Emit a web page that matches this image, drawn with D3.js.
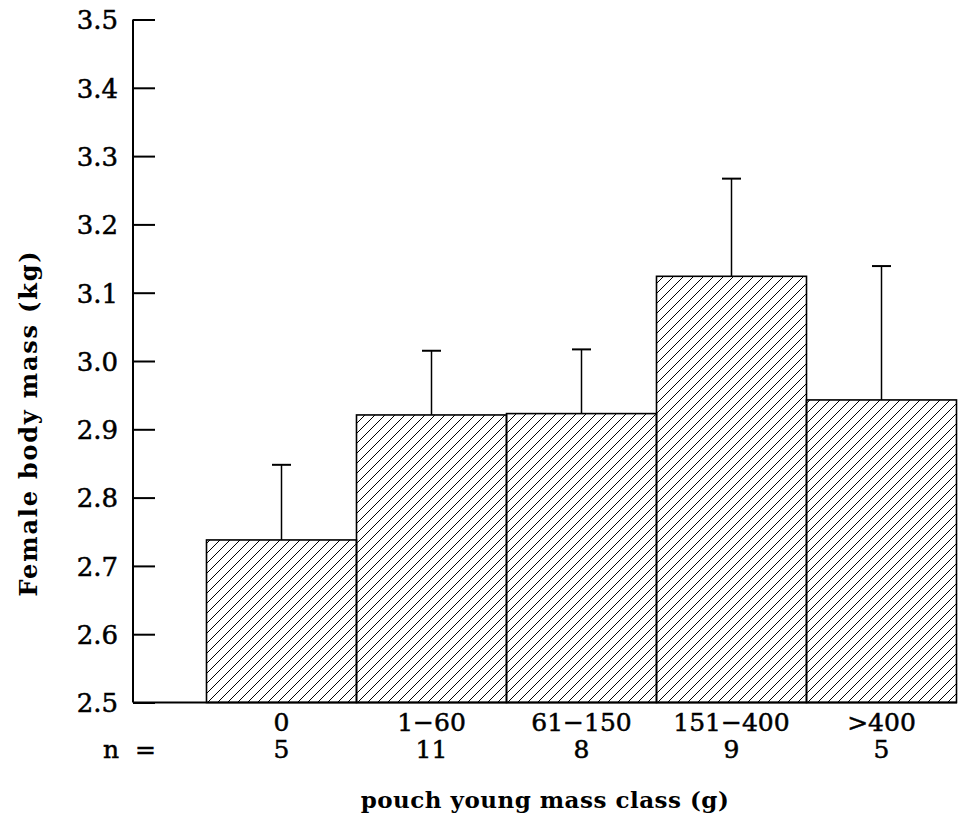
<!DOCTYPE html>
<html><head><meta charset="utf-8">
<script src="https://cdn.jsdelivr.net/npm/d3@7"></script>
<style>html,body{margin:0;padding:0;background:#fff;}svg{display:block;}</style>
</head><body>
<svg id="chart" width="959" height="828"></svg>
<script>
const categories = ["0", "1\u221260", "61\u2212150", "151\u2212400", ">400"];
const nValues = ["5", "11", "8", "9", "5"];
const means = [2.738, 2.921, 2.923, 3.124, 2.943];
const errTops = [2.848, 3.015, 3.017, 3.267, 3.139];
const yTicks = [2.5, 2.6, 2.7, 2.8, 2.9, 3.0, 3.1, 3.2, 3.3, 3.4, 3.5];

const svg = d3.select("#chart");
const font = "'DejaVu Serif', serif";
const axisX = 133;

const y = d3.scaleLinear().domain([2.5, 3.5]).range([702.5, 19.5]);
const x = d3.scaleBand().domain(categories).range([206.5, 956.5]).padding(0);

// hatch pattern
const defs = svg.append("defs");
const pat = defs.append("pattern").attr("id", "hatch").attr("patternUnits", "userSpaceOnUse")
  .attr("width", 10).attr("height", 10);
pat.append("path").attr("d", "M-2,2 L2,-2 M0,10 L10,0 M8,12 L12,8")
  .attr("stroke", "#000").attr("stroke-width", 1);

// bars
svg.append("g").selectAll("rect").data(categories).join("rect")
  .attr("x", d => x(d)).attr("width", x.bandwidth())
  .attr("y", (d, i) => y(means[i])).attr("height", (d, i) => y(2.5) - y(means[i]))
  .attr("fill", "url(#hatch)").attr("stroke", "#000").attr("stroke-width", 1.6);

// error bars
const eg = svg.append("g").attr("stroke", "#000");
categories.forEach((c, i) => {
  const cx = x(c) + x.bandwidth() / 2;
  eg.append("line").attr("x1", cx).attr("x2", cx).attr("y1", y(means[i])).attr("y2", y(errTops[i])).attr("stroke-width", 1.5);
  eg.append("line").attr("x1", cx - 9.5).attr("x2", cx + 9.5).attr("y1", y(errTops[i])).attr("y2", y(errTops[i])).attr("stroke-width", 2);
});

// y axis (ticks inward)
const yAxis = d3.axisRight(y).tickValues(yTicks).tickSize(22).tickFormat(d3.format(".1f"));
const ya = svg.append("g").attr("transform", `translate(${axisX},0)`).call(yAxis);
ya.select(".domain").attr("d", `M0,${y(3.5)}V${y(2.5)}`).attr("stroke-width", 2);
ya.selectAll(".tick line").attr("stroke-width", 2);
ya.selectAll(".tick text").attr("x", -15).attr("text-anchor", "end")
  .attr("font-family", font).attr("font-size", 26).attr("fill", "#000").attr("dy", "0.36em")
  .attr("stroke", "#000").attr("stroke-width", 0.5);

// baseline
svg.append("line").attr("x1", axisX).attr("x2", 957).attr("y1", y(2.5)).attr("y2", y(2.5))
  .attr("stroke", "#000").attr("stroke-width", 2.2);

// category labels
const xa = svg.append("g").attr("font-family", font).attr("font-size", 25).attr("text-anchor", "middle")
  .attr("stroke", "#000").attr("stroke-width", 0.5);
xa.selectAll("text.cat").data(categories).join("text").attr("class", "cat")
  .attr("x", d => x(d) + x.bandwidth() / 2).attr("y", 731).text(d => d);
xa.selectAll("text.n").data(categories).join("text").attr("class", "n")
  .attr("x", d => x(d) + x.bandwidth() / 2).attr("y", 758).text((d, i) => nValues[i]);
xa.append("text").attr("x", 103).attr("y", 758).attr("text-anchor", "start").text("n  =").attr("xml:space", "preserve");

// axis titles
svg.append("text").attr("x", 545).attr("y", 808).attr("text-anchor", "middle")
  .attr("font-family", font).attr("font-size", 23).attr("font-weight", "bold").attr("letter-spacing", 0.5)
  .text("pouch young mass class (g)");
svg.append("text").attr("transform", "translate(37,423) rotate(-90)").attr("text-anchor", "middle")
  .attr("font-family", font).attr("font-size", 24).attr("font-weight", "bold").attr("letter-spacing", 1.8)
  .text("Female body mass (kg)");
</script>
</body></html>
